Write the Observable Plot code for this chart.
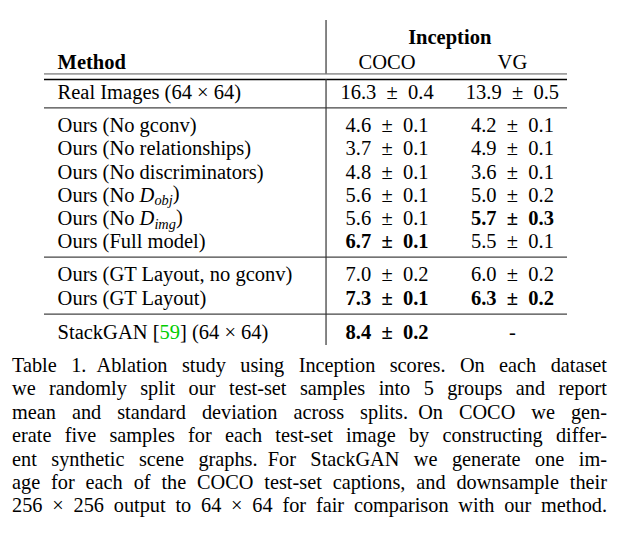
<!DOCTYPE html>
<html>
<head>
<meta charset="utf-8">
<script src="https://cdn.jsdelivr.net/npm/d3@7"></script>
<script src="https://cdn.jsdelivr.net/npm/@observablehq/plot@0.6"></script>
</head>
<body style="margin:0;background:#fff;width:618px;">
<div id="chart"></div>
<div id="caption" style="font-family:'Liberation Serif', serif;font-size:20.3px;line-height:23.4px;color:#000;margin:4px 11px 0 12px;"></div>
<script>
// ---- data ----
const methods = [
  "Real Images (64 × 64)",
  "Ours (No gconv)",
  "Ours (No relationships)",
  "Ours (No discriminators)",
  "Ours (No D_obj)",
  "Ours (No D_img)",
  "Ours (Full model)",
  "Ours (GT Layout, no gconv)",
  "Ours (GT Layout)",
  "StackGAN [59] (64 × 64)"
];
const groupOf  = [0, 1, 1, 1, 1, 1, 1, 2, 2, 3];
const cocoMean = [16.3, 4.6, 3.7, 4.8, 5.6, 5.6, 6.7, 7.0, 7.3, 8.4];
const cocoStd  = [0.4, 0.1, 0.1, 0.1, 0.1, 0.1, 0.1, 0.2, 0.1, 0.2];
const vgMean   = [13.9, 4.2, 4.9, 3.6, 5.0, 5.7, 5.5, 6.0, 6.3, null];
const vgStd    = [0.5, 0.1, 0.1, 0.1, 0.2, 0.3, 0.1, 0.2, 0.2, null];
const cocoBold = [false, false, false, false, false, false, true, false, true, true];
const vgBold   = [false, false, false, false, false, true, false, false, true, false];
const superHeader = "Inception";
const columns = ["Method", "COCO", "VG"];
const captionLines = [
  "Table 1.\u2002Ablation study using Inception scores. On each dataset",
  "we randomly split our test-set samples into 5 groups and report",
  "mean and standard deviation across splits.\u2002On COCO we gen-",
  "erate five samples for each test-set image by constructing differ-",
  "ent synthetic scene graphs.\u2002For StackGAN we generate one im-",
  "age for each of the COCO test-set captions, and downsample their",
  "256 × 256 output to 64 × 64 for fair comparison with our method."
];

// ---- layout (table geometry, in table-width fractions and line units) ----
const groupGap = [0, 0.43, 0.86, 1.35];
const col = {method: 0.025, divider: 0.5383, COCO: 0.655, VG: 0.8946};
const pos = methods.map((_, i) => i + groupGap[groupOf[i]]);
const headerY = -1.3, superY = -2.38, topRule1 = -0.8, topRule2 = -0.56;
const fmt = (m, s) => m == null ? "-" : `${m.toFixed(1)}\u2002±\u2002${s.toFixed(1)}`;

const rows = methods.map((m, i) => ({
  method: m, y: pos[i],
  coco: fmt(cocoMean[i], cocoStd[i]), vg: fmt(vgMean[i], vgStd[i]),
  cocoBold: cocoBold[i], vgBold: vgBold[i]
}));
const sepY = [];
for (let i = 1; i < pos.length; i++) if (groupOf[i] !== groupOf[i - 1]) sepY.push((pos[i - 1] + pos[i]) / 2 - 0.05);
const vSegs = [{y1: superY - 0.72, y2: topRule1}, {y1: topRule2, y2: pos[pos.length - 1] + 0.55}];
const headers = [
  {t: columns[0], x: col.method, bold: true},
  {t: columns[1], x: col.COCO, bold: false},
  {t: columns[2], x: col.VG, bold: false}
];

const FONT = "'Liberation Serif', serif";
const F = 20.5;
const plot = Plot.plot({
  width: 618, height: 350,
  marginTop: 0, marginBottom: 0, marginLeft: 0, marginRight: 0,
  x: {domain: [0, 1], range: [44, 567], axis: null},
  y: {domain: [-3.966, 11.12], range: [0, 350], axis: null},
  style: {fontFamily: FONT, fontSize: F + "px", background: "#fff", color: "#000"},
  marks: [
    Plot.ruleY([topRule1], {x1: 0, x2: 1, stroke: "#555", strokeWidth: 1}),
    Plot.ruleY([topRule2], {x1: 0, x2: 1, stroke: "#000", strokeWidth: 1.6}),
    Plot.ruleY(sepY, {x1: 0, x2: 1, stroke: "#444", strokeWidth: 1.2}),
    Plot.ruleX(vSegs, {x: col.divider, y1: "y1", y2: "y2", stroke: "#333", strokeWidth: 1.2}),
    Plot.text([superHeader], {x: (col.COCO + col.VG) / 2, y: superY, text: d => d, fontWeight: "bold", fontSize: F}),
    Plot.text(headers.filter(h => h.bold), {x: "x", y: headerY, text: "t", textAnchor: "start", fontWeight: "bold", fontSize: F}),
    Plot.text(headers.filter(h => !h.bold), {x: "x", y: headerY, text: "t", fontSize: F}),
    Plot.text(rows, {x: col.method, y: "y", text: "method", textAnchor: "start", fontSize: F}),
    Plot.text(rows.filter(d => !d.cocoBold), {x: col.COCO, y: "y", text: "coco", fontSize: F}),
    Plot.text(rows.filter(d => d.cocoBold), {x: col.COCO, y: "y", text: "coco", fontSize: F, fontWeight: "bold"}),
    Plot.text(rows.filter(d => !d.vgBold), {x: col.VG, y: "y", text: "vg", fontSize: F}),
    Plot.text(rows.filter(d => d.vgBold), {x: col.VG, y: "y", text: "vg", fontSize: F, fontWeight: "bold"})
  ]
});

// rich-text touch-ups: math subscripts and green citation
const NS = "http://www.w3.org/2000/svg";
function span(txt, attrs) {
  const s = document.createElementNS(NS, "tspan");
  s.textContent = txt;
  for (const k in attrs) s.setAttribute(k, attrs[k]);
  return s;
}
plot.querySelectorAll("text").forEach(t => {
  t.style.fontFamily = FONT;
  const s = t.textContent;
  let m = s.match(/^(.*)D_(\w+)(\).*)$/);
  if (m) {
    t.textContent = "";
    t.append(span(m[1]), span("D", {"font-style": "italic"}),
      span(m[2], {"font-style": "italic", "font-size": "0.7em", dy: "0.25em"}),
      span(m[3], {dy: "-0.25em"}));
    return;
  }
  m = s.match(/^(.*\[)(\d+)(\].*)$/);
  if (m) {
    t.textContent = "";
    t.append(span(m[1]), span(m[2], {fill: "#00cc00"}), span(m[3]));
  }
});
document.getElementById("chart").append(plot);

const cap = document.getElementById("caption");
captionLines.forEach(l => {
  const d = document.createElement("div");
  d.textContent = l;
  d.style.textAlign = "justify";
  d.style.textAlignLast = "justify";
  cap.append(d);
});
</script>
</body>
</html>
